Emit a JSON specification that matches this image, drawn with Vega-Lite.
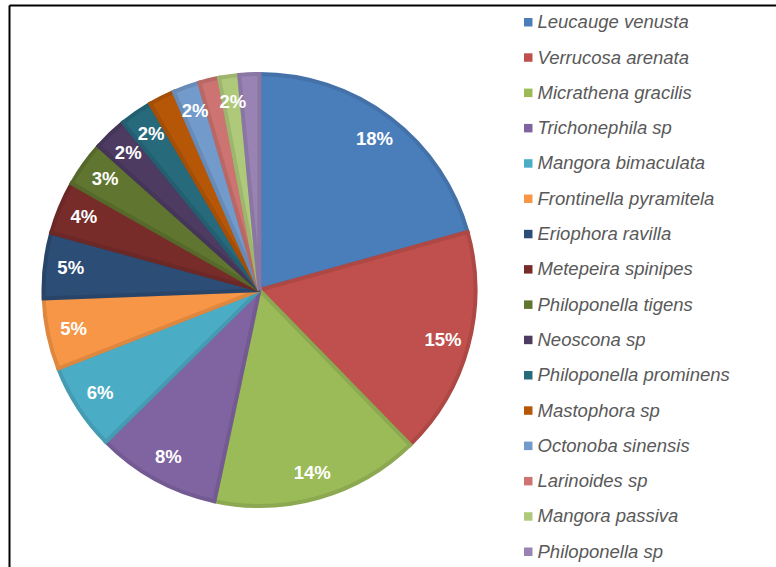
{
  "$schema": "https://vega.github.io/schema/vega-lite/v6.json",
  "width": 501,
  "height": 554,
  "autosize": "none",
  "padding": {"left": 9, "top": 13, "right": 266, "bottom": 0},
  "background": "white",
  "data": {
    "values": [
      {"rank": 1, "species": "Leucauge venusta", "value": 20.7, "label": "18%"},
      {"rank": 2, "species": "Verrucosa arenata", "value": 17.05, "label": "15%"},
      {"rank": 3, "species": "Micrathena gracilis", "value": 15.65, "label": "14%"},
      {"rank": 4, "species": "Trichonephila sp", "value": 9.25, "label": "8%"},
      {"rank": 5, "species": "Mangora bimaculata", "value": 6.5, "label": "6%"},
      {"rank": 6, "species": "Frontinella pyramitela", "value": 5.3, "label": "5%"},
      {"rank": 7, "species": "Eriophora ravilla", "value": 4.9, "label": "5%"},
      {"rank": 8, "species": "Metepeira spinipes", "value": 3.95, "label": "4%"},
      {"rank": 9, "species": "Philoponella tigens", "value": 3.4, "label": "3%"},
      {"rank": 10, "species": "Neoscona sp", "value": 2.5, "label": "2%"},
      {"rank": 11, "species": "Philoponella prominens", "value": 2.45, "label": "2%"},
      {"rank": 12, "species": "Mastophora sp", "value": 1.95, "label": ""},
      {"rank": 13, "species": "Octonoba sinensis", "value": 2.0, "label": "2%"},
      {"rank": 14, "species": "Larinoides sp", "value": 1.5, "label": ""},
      {"rank": 15, "species": "Mangora passiva", "value": 1.5, "label": "2%"},
      {"rank": 16, "species": "Philoponella sp", "value": 1.5, "label": ""}
    ]
  },
  "layer": [
    {
      "mark": {"type": "arc", "outerRadius": 216, "strokeWidth": 4, "strokeJoin": "miter"},
      "encoding": {
        "theta": {"field": "value", "type": "quantitative", "stack": true},
        "order": {"field": "rank", "type": "quantitative"},
        "color": {
          "field": "species",
          "type": "nominal",
          "scale": {
            "domain": ["Leucauge venusta", "Verrucosa arenata", "Micrathena gracilis", "Trichonephila sp", "Mangora bimaculata", "Frontinella pyramitela", "Eriophora ravilla", "Metepeira spinipes", "Philoponella tigens", "Neoscona sp", "Philoponella prominens", "Mastophora sp", "Octonoba sinensis", "Larinoides sp", "Mangora passiva", "Philoponella sp"],
            "range": ["#4A7EBB", "#C0504D", "#9BBB59", "#8064A2", "#4BACC6", "#F79646", "#2C4D75", "#772C2A", "#5F7530", "#4D3B62", "#276A7C", "#B65708", "#729ACA", "#CD7371", "#AFC97A", "#9983B5"]
          },
          "legend": {
            "orient": "none",
            "legendX": 510,
            "legendY": 0,
            "title": null,
            "padding": 0,
            "symbolType": "square",
            "symbolSize": 72,
            "symbolStrokeWidth": 0,
            "labelFont": "Liberation Sans",
            "labelFontSize": 18.5,
            "labelFontStyle": "italic",
            "labelColor": "#595959",
            "labelOffset": 0,
            "rowPadding": 16.3,
            "labelLimit": 300
          }
        },
        "stroke": {
          "field": "species",
          "type": "nominal",
          "scale": {
            "domain": ["Leucauge venusta", "Verrucosa arenata", "Micrathena gracilis", "Trichonephila sp", "Mangora bimaculata", "Frontinella pyramitela", "Eriophora ravilla", "Metepeira spinipes", "Philoponella tigens", "Neoscona sp", "Philoponella prominens", "Mastophora sp", "Octonoba sinensis", "Larinoides sp", "Mangora passiva", "Philoponella sp"],
            "range": ["#4371A8", "#AD4845", "#8CA850", "#735A92", "#449BB2", "#DE873F", "#284569", "#6B2826", "#56692B", "#453558", "#235F70", "#A44E07", "#678BB6", "#B96866", "#9EB56E", "#8A76A3"]
          },
          "legend": null
        }
      }
    },
    {
      "mark": {"type": "text", "radius": 190, "fill": "white", "fontWeight": "bold", "fontSize": 18.5, "font": "Liberation Sans", "align": "center", "baseline": "middle"},
      "encoding": {
        "theta": {"field": "value", "type": "quantitative", "stack": true},
        "order": {"field": "rank", "type": "quantitative"},
        "text": {"field": "label", "type": "nominal"}
      }
    },
    {
      "mark": {"type": "point", "opacity": 0},
      "encoding": {
        "x": {"field": "value", "type": "quantitative", "scale": {"range": [0, 800]}, "axis": {"orient": "top", "offset": 8, "domain": true, "domainColor": "black", "domainWidth": 2, "ticks": false, "labels": false, "grid": false, "title": null}},
        "y": {"field": "rank", "type": "quantitative", "scale": {"range": [-8, 560]}, "axis": {"orient": "left", "domain": true, "domainColor": "black", "domainWidth": 2, "ticks": false, "labels": false, "grid": false, "title": null}}
      }
    }
  ],
  "config": {"view": {"stroke": null}}
}
